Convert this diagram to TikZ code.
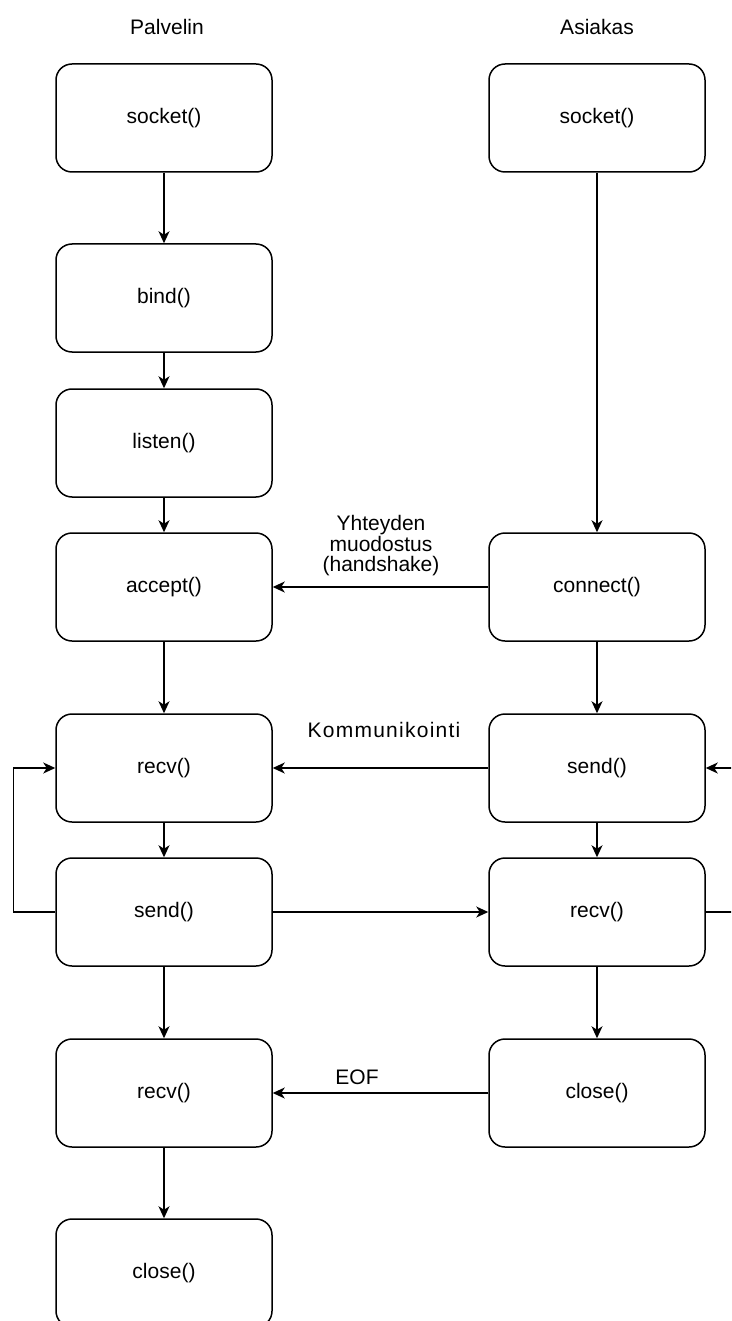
\documentclass[tikz,border=0pt]{standalone}
\usepackage{fontspec}
\setmainfont{Liberation Sans}
\usetikzlibrary{arrows.meta}
\tikzset{
  fn/.style={draw=black, line width=1.5pt, rounded corners=16pt,
    minimum width=216pt, minimum height=108pt, inner sep=0pt,
    font=\fontsize{21}{25}\selectfont},
  arr/.style={draw=black, line width=1.5pt, -{Stealth[length=12pt,width=11pt,inset=3.5pt]}},
  lbl/.style={font=\fontsize{21}{20.5}\selectfont, align=center, inner sep=0pt}
}
\begin{document}
\begin{tikzpicture}[x=1pt,y=-1pt]
\useasboundingbox (0,0) rectangle (731,1321);
\clip (0,0) rectangle (731,1321);
\fill[white] (0,0) rectangle (731,1321);

% column headings
\node[lbl] (hS) at (167,27) {Palvelin};
\node[lbl] (hC) at (597,27) {Asiakas};

% server side
\node[fn] (sSock)   at (164,118)  {socket()};
\node[fn] (sBind)   at (164,298)  {bind()};
\node[fn] (sListen) at (164,443)  {listen()};
\node[fn] (sAccept) at (164,587)  {accept()};
\node[fn] (sRecv)   at (164,768)  {recv()};
\node[fn] (sSend)   at (164,912)  {send()};
\node[fn] (sRecv2)  at (164,1093) {recv()};
\node[fn] (sClose)  at (164,1273) {close()};

% client side
\node[fn] (cSock)    at (597,118)  {socket()};
\node[fn] (cConnect) at (597,587)  {connect()};
\node[fn] (cSend)    at (597,768)  {send()};
\node[fn] (cRecv)    at (597,912)  {recv()};
\node[fn] (cClose)   at (597,1093) {close()};

% server flow
\draw[arr] (sSock) -- (sBind);
\draw[arr] (sBind) -- (sListen);
\draw[arr] (sListen) -- (sAccept);
\draw[arr] (sAccept) -- (sRecv);
\draw[arr] (sRecv) -- (sSend);
\draw[arr] (sSend) -- (sRecv2);
\draw[arr] (sRecv2) -- (sClose);
\draw[arr] (sSend.west) -- ++(-42,0) |- (sRecv.west);

% client flow
\draw[arr] (cSock) -- (cConnect);
\draw[arr] (cConnect) -- (cSend);
\draw[arr] (cSend) -- (cRecv);
\draw[arr] (cRecv) -- (cClose);
\coordinate (cLoopIn) at (740,768);
\coordinate (cLoopOut) at (740,912);
\draw[arr] (cLoopIn) -- (cSend.east);
\draw[line width=1.5pt] (cRecv.east) -- (cLoopOut);

% messages between the two sides
\draw[arr] (cConnect) -- (sAccept);
\draw[arr] (cSend) -- (sRecv);
\draw[arr] (sSend) -- (cRecv);
\draw[arr] (cClose) -- (sRecv2);

% message labels
\node[lbl] (mHand) at (381,546) {Yhteyden\\muodostus\\(handshake)};
\node[lbl] (mComm) at (384,730) {\addfontfeature{LetterSpace=6}Kommunikointi};
\node[lbl] (mEof)  at (357,1077) {EOF};
\end{tikzpicture}
\end{document}
